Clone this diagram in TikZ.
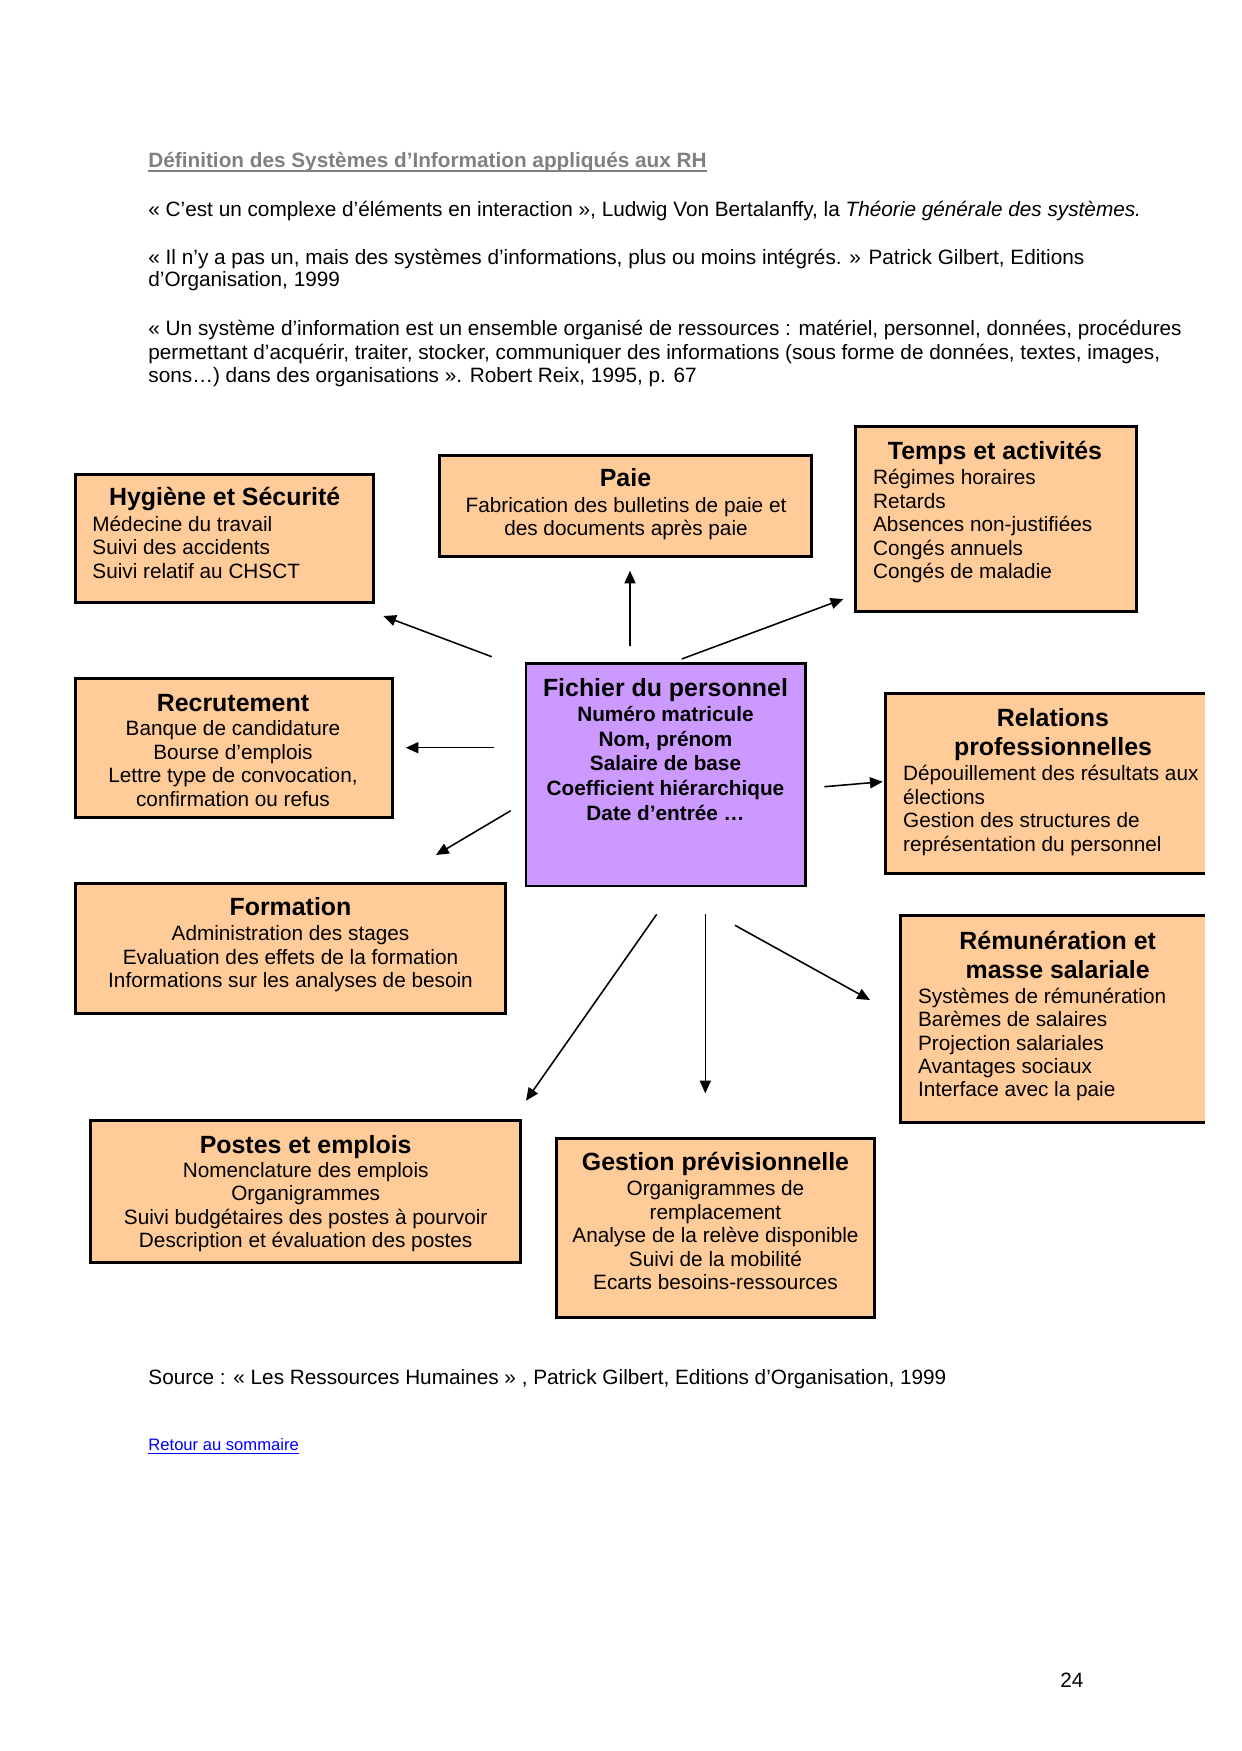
\documentclass[tikz,border=0pt]{standalone}
\usepackage{fontspec}
\setmainfont{Liberation Sans}
\usetikzlibrary{arrows.meta}
\definecolor{peach}{HTML}{FFCC99}
\definecolor{lilac}{HTML}{CC99FF}
\definecolor{headgray}{HTML}{808080}
\definecolor{linkblue}{HTML}{0000FF}
\begin{document}
\begin{tikzpicture}[x=0.48bp,y=-0.48bp,
  boxsize/.style 2 args={minimum width=#1*0.48bp, minimum height=#2*0.48bp},
  box/.style={draw=black, line width=1.4bp, fill=peach, inner sep=0, outer sep=0},
  openbox/.style={fill=peach, inner sep=0, outer sep=0},
  border/.style={line width=1.4bp},
  ttl/.style={inner sep=0, font=\bfseries\fontsize{12}{14}\selectfont},
  bodyc/.style={inner sep=0, align=center, font=\fontsize{10}{11.3}\selectfont},
  bodyl/.style={inner sep=0, align=left, font=\fontsize{10}{11.3}\selectfont},
  para/.style={inner sep=0, anchor=base west, font=\fontsize{10}{11.3}\selectfont},
  conn/.style={line width=0.75bp, -{Triangle[length=6.1bp,width=5.3bp]}},
]
\useasboundingbox (0,0) rectangle (1241,1751);
\fill[white] (0,0) rectangle (1241,1751);

% ---- header text ----
\node[para, font=\bfseries\fontsize{10}{11.3}\selectfont, text=headgray] (head) at (148,167) {Définition des Systèmes d’Information appliqués aux RH};
\draw[headgray, line width=0.9bp] ([yshift=-1.9bp]head.base west) -- ([yshift=-1.9bp]head.base east);
\node[para] (p1) at (148,216.5) {« C’est un complexe d’éléments en interaction », Ludwig Von Bertalanffy, la \textit{Théorie générale des systèmes.}};
\node[para] (p2a) at (148,264) {« Il n’y a pas un, mais des systèmes d’informations, plus ou moins intégrés. » Patrick Gilbert, Editions};
\node[para] (p2b) at (148,286.5) {d’Organisation, 1999};
\node[para] (p3a) at (148,335.5) {« Un système d’information est un ensemble organisé de ressources : matériel, personnel, données, procédures};
\node[para] (p3b) at (148,359.5) {permettant d’acquérir, traiter, stocker, communiquer des informations (sous forme de données, textes, images,};
\node[para] (p3c) at (148,382) {sons…) dans des organisations ». Robert Reix, 1995, p. 67};

% ---- boxes ----
\node[box, boxsize={298.3}{128.3}] (hyg) at (224.65,538.35) {};
\node[ttl, anchor=base] (hygT) at (224.7,505.5) {Hygiène et Sécurité};
\node[bodyl, anchor=north west] (hygB) at (92,514.6) {\strut Médecine du travail\\Suivi des accidents\\Suivi relatif au CHSCT};

\node[box, boxsize={372.6}{101.6}] (paie) at (625.5,506) {};
\node[ttl, anchor=base] (paieT) at (625.5,486.8) {Paie};
\node[bodyc, anchor=north] (paieB) at (626,495.6) {\strut Fabrication des bulletins de paie et\\des documents après paie};

\node[box, boxsize={280.4}{185}] (tps) at (996,519.3) {};
\node[ttl, anchor=base] (tpsT) at (995,459.2) {Temps et activités};
\node[bodyl, anchor=north west] (tpsB) at (872.7,468.1) {\strut Régimes horaires\\Retards\\Absences non-justifiées\\Congés annuels\\Congés de maladie};

\node[box, boxsize={317.3}{138.4}] (rec) at (234.15,748) {};
\node[ttl, anchor=base] (recT) at (233,711) {Recrutement};
\node[bodyc, anchor=north] (recB) at (233,719.1) {\strut Banque de candidature\\Bourse d’emplois\\Lettre type de convocation,\\confirmation ou refus};

\node[box, fill=lilac, boxsize={279.2}{222.2}] (fic) at (665.6,774.9) {};
\node[ttl, anchor=base] (ficT) at (665.5,696) {Fichier du personnel};
\node[bodyc, font=\bfseries\fontsize{10}{11.95}\selectfont, anchor=north] (ficB) at (665.5,703.6) {\strut Numéro matricule\\Nom, prénom\\Salaire de base\\Coefficient hiérarchique\\Date d’entrée …};

\node[openbox, boxsize={319.2}{180}] (rel) at (1045.4,783.5) {};
\draw[border] (rel.north east) -- (rel.north west) -- (rel.south west) -- (rel.south east);
\node[ttl, align=center, anchor=north] (relT) at (1053,705.7) {\strut Relations\\professionnelles};
\node[bodyl, anchor=north west] (relB) at (902.7,763.9) {\strut Dépouillement des résultats aux\\élections\\Gestion des structures de\\représentation du personnel};

\node[box, boxsize={430}{130}] (form) at (290.5,948.5) {};
\node[ttl, anchor=base] (formT) at (290.5,915) {Formation};
\node[bodyc, anchor=north] (formB) at (290.5,923.9) {\strut Administration des stages\\Evaluation des effets de la formation\\Informations sur les analyses de besoin};

\node[openbox, boxsize={304.2}{207.3}] (rem) at (1052.9,1019.15) {};
\draw[border] (rem.north east) -- (rem.north west) -- (rem.south west) -- (rem.south east);
\node[ttl, align=center, anchor=north] (remT) at (1057.7,928.7) {\strut Rémunération et\\masse salariale};
\node[bodyl, anchor=north west] (remB) at (917.7,986.3) {\strut Systèmes de rémunération\\Barèmes de salaires\\Projection salariales\\Avantages sociaux\\Interface avec la paie};

\node[box, boxsize={429.7}{142.3}] (pos) at (305.65,1191.35) {};
\node[ttl, anchor=base] (posT) at (305.7,1153.5) {Postes et emplois};
\node[bodyc, anchor=north] (posB) at (305.7,1160.6) {\strut Nomenclature des emplois\\Organigrammes\\Suivi budgétaires des postes à pourvoir\\Description et évaluation des postes};

\node[box, boxsize={318}{179.3}] (ges) at (715.5,1228.15) {};
\node[ttl, anchor=base] (gesT) at (715.5,1170) {Gestion prévisionnelle};
\node[bodyc, anchor=north] (gesB) at (715.5,1178.9) {\strut Organigrammes de\\remplacement\\Analyse de la relève disponible\\Suivi de la mobilité\\Ecarts besoins-ressources};

% ---- connectors ----
\coordinate (hS) at (491.7,656.7);  \coordinate (hE) at (383.3,616);
\coordinate (pS) at (630,645.7);    \coordinate (pE) at (630,570.7);
\coordinate (tS) at (681.7,659);    \coordinate (tE) at (843.3,599);
\coordinate (rS) at (494.3,747.7);  \coordinate (rE) at (405.7,747.7);
\coordinate (lS) at (824.3,786.7);  \coordinate (lE) at (882.7,781.7);
\coordinate (fS) at (510.7,810.7);  \coordinate (fE) at (436,855);
\coordinate (oS) at (656.7,914.3);  \coordinate (oE) at (526,1100.7);
\coordinate (gS) at (705.3,914.3);  \coordinate (gE) at (705.3,1093.3);
\coordinate (mS) at (735,925.3);    \coordinate (mE) at (870,1000);
\draw[conn] (hS) -- (hE);
\draw[conn] (pS) -- (pE);
\draw[conn] (tS) -- (tE);
\draw[conn] (rS) -- (rE);
\draw[conn] (lS) -- (lE);
\draw[conn] (fS) -- (fE);
\draw[conn] (oS) -- (oE);
\draw[conn] (gS) -- (gE);
\draw[conn] (mS) -- (mE);

% ---- footer ----
\node[para] (src) at (148,1384) {Source : « Les Ressources Humaines » , Patrick Gilbert, Editions d’Organisation, 1999};
\node[para, font=\fontsize{8}{9.5}\selectfont, text=linkblue] (back) at (148,1450) {Retour au sommaire};
\draw[linkblue, line width=0.5bp] ([yshift=-1.6bp]back.base west) -- ([yshift=-1.6bp]back.base east);
\node[para] (pg) at (1060,1687) {24};
\end{tikzpicture}
\end{document}
